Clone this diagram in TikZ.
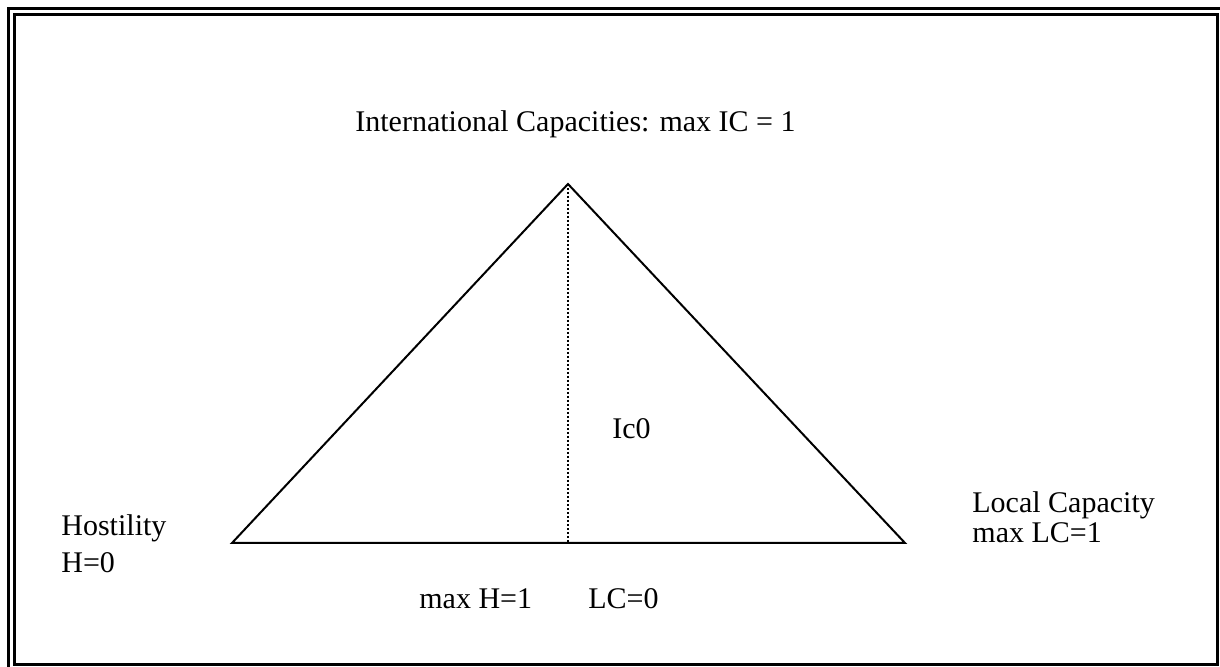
\documentclass[tikz,border=0pt]{standalone}
\usepackage{fontspec}
\setmainfont{Liberation Serif}
\usepackage{tikz}

\begin{document}
\begin{tikzpicture}[x=0.5pt,y=-0.5pt,
    lbl/.style={anchor=base west,inner sep=0pt,align=left,
        font=\fontsize{15}{15}\selectfont},
    frame/.style={line width=1.5pt}]
    \useasboundingbox (0,0) rectangle (1220,667);
    \clip (0,0) rectangle (1220,667);

    % double border
    \draw[frame] (8.5,8.5) rectangle (1230,680);
    \draw[frame] (14.5,14.5) rectangle (1217.5,664.5);

    \coordinate (top) at (568,184);
    \coordinate (hl) at (232,543);
    \coordinate (lc) at (905,543);
    \coordinate (foot) at (568,543);

    \draw[line width=1pt, line join=miter] (hl) -- (top) -- (lc) -- cycle;
    \draw[line width=0.8pt, dash pattern=on 1pt off 1pt] (top) -- (foot);

    \node[lbl] (ic) at (355,132) {International Capacities: max IC = 1};
    \node[lbl] (ic0) at (612,439) {Ic0};
    \node[lbl] (host) at (61,573) {Hostility\\[3.5pt]H=0};
    \node[lbl] (loc) at (972,543) {Local Capacity\\max LC=1};
    \node[lbl] (maxh) at (419,608) {max H=1};
    \node[lbl] (lc0) at (588,608) {LC=0};
\end{tikzpicture}
\end{document}
